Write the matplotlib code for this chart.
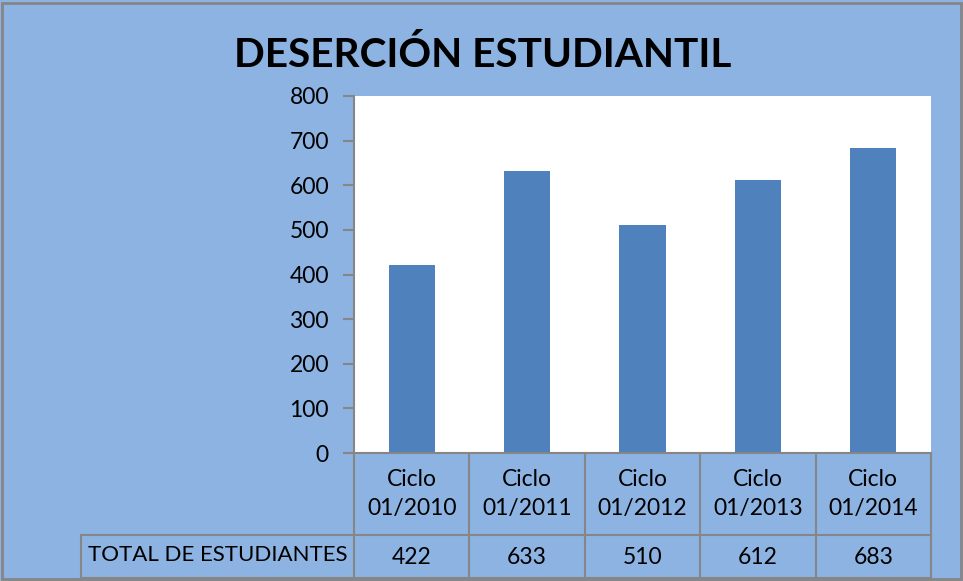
import matplotlib
matplotlib.use("Agg")
import matplotlib.pyplot as plt
from matplotlib.lines import Line2D
from matplotlib.patches import Rectangle

categories = ["Ciclo\n01/2010", "Ciclo\n01/2011", "Ciclo\n01/2012", "Ciclo\n01/2013", "Ciclo\n01/2014"]
values = [422, 633, 510, 612, 683]
row_label = "TOTAL DE ESTUDIANTES"
title = "DESERCIÓN ESTUDIANTIL"
yticks = [0, 100, 200, 300, 400, 500, 600, 700, 800]

BG = "#8DB3E2"
BAR = "#4F81BD"
GRID = "#868686"
FONT = ["Lato", "DejaVu Sans"]

W, H = 963, 581
fig = plt.figure(figsize=(W / 100, H / 100), dpi=100)
fig.patch.set_facecolor(BG)

def fx(px):
    return px / W

def fy(py):
    return 1 - py / H

# outer border
fig.add_artist(Rectangle((fx(2), fy(579)), fx(961) - fx(2), fy(3) - fy(579),
                         transform=fig.transFigure, fill=False, edgecolor=GRID, lw=2))

left, right, top, bottom = 354, 931, 96, 453
ax = fig.add_axes([fx(left), fy(bottom), fx(right) - fx(left), fy(top) - fy(bottom)])
ax.set_facecolor("white")
n = len(values)
ax.bar(range(n), values, width=0.4, color=BAR, zorder=3)
ax.set_xlim(-0.5, n - 0.5)
ax.set_ylim(0, 800)
ax.set_yticks(yticks)
ax.set_yticklabels([str(t) for t in yticks], fontsize=16.5, family=FONT)
ax.tick_params(axis="y", length=8, width=1.5, color=GRID, pad=10)
ax.set_xticks([])
for s in ["top", "right"]:
    ax.spines[s].set_visible(False)
ax.spines["left"].set_color(GRID)
ax.spines["left"].set_linewidth(1.5)
ax.spines["bottom"].set_visible(False)

fig.text(fx(483), fy(55), title, ha="center", va="center", fontsize=29.2,
         fontweight="bold", family=FONT)

# data table
row1_bot, row2_bot = 535, 578
cw = (right - left) / n
lines = []
lines.append(((346, right), (bottom, bottom)))
lines.append(((81, right), (row1_bot, row1_bot)))
lines.append(((81, right), (row2_bot, row2_bot)))
for i in range(n + 1):
    x = left + i * cw
    lines.append(((x, x), (bottom, row2_bot)))
lines.append(((81, 81), (row1_bot, row2_bot)))
for xs, ys in lines:
    fig.add_artist(Line2D([fx(xs[0]), fx(xs[1])], [fy(ys[0]), fy(ys[1])],
                          transform=fig.transFigure, color=GRID, lw=1.5))

for i, (c, v) in enumerate(zip(categories, values)):
    xc = left + (i + 0.5) * cw
    fig.text(fx(xc), fy(494), c, ha="center", va="center", fontsize=16.5,
             family=FONT, linespacing=1.5)
    fig.text(fx(xc), fy(557), str(v), ha="center", va="center", fontsize=16.5,
             family=FONT)
fig.text(fx(88), fy(555), row_label, ha="left", va="center", fontsize=16, family=FONT)

fig.savefig("out.png", dpi=100, facecolor=BG)
